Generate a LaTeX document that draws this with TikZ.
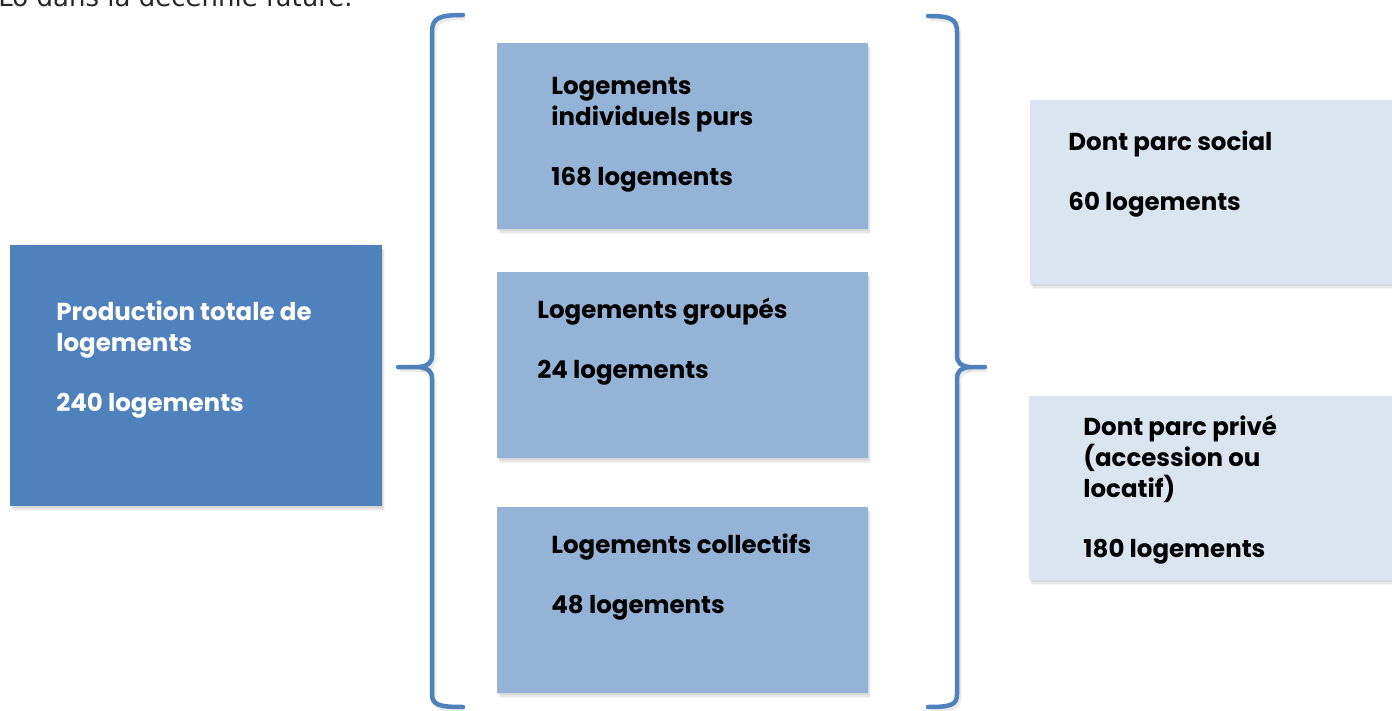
\documentclass[tikz,border=0pt]{standalone}
\usepackage{fontspec}
\setmainfont{Poppins}
\newfontfamily\bodyfont{DejaVu Sans}
\usepackage{xcolor}
\usetikzlibrary{positioning,shadows}
\definecolor{darkblue}{HTML}{4F81BD}
\definecolor{midblue}{HTML}{95B3D7}
\definecolor{paleblue}{HTML}{DBE5F1}

\begin{document}
\begin{tikzpicture}[x=1pt,y=-1pt,
                thick,
                box/.style={rectangle,inner sep=0pt,anchor=north west,
                  drop shadow={shadow xshift=1pt,shadow yshift=-2pt,opacity=0.15},
                  drop shadow={shadow xshift=2pt,shadow yshift=-3.5pt,opacity=0.12},
                  drop shadow={shadow xshift=3pt,shadow yshift=-5pt,opacity=0.08}},
                total box/.style={box,fill=darkblue,minimum width=372pt,minimum height=261pt},
                type box/.style={box,fill=midblue,minimum width=371pt,minimum height=186pt},
                parc box/.style={box,fill=paleblue,minimum width=372pt,minimum height=184pt},
                txt/.style={anchor=north west,inner sep=0pt,align=left,
                  font=\fontsize{24.5}{31}\selectfont\bfseries},
                brace/.style={draw=darkblue,line width=4.5pt,line cap=round,
                  preaction={draw=black,opacity=0.08,line width=4.5pt,
                    transform canvas={shift={(2pt,-3pt)}}}}]
  \clip (0,0) rectangle (1392,711);

  \node[anchor=base west,inner sep=0pt,font=\bodyfont\fontsize{26}{30}\selectfont,
        text=black!85] (intro) at (-2,7) {Lo dans la décennie future.};

  \node[total box] (total) at (10,245) {};
  \node[type box] (indiv) at (497,43) {};
  \node[type box] (group) at (497,272) {};
  \node[type box] (coll) at (497,507) {};
  \node[parc box] (social) at (1030,100) {};
  \node[parc box] (prive) at (1029,396) {};

  \node[txt,text=white] (totaltxt) [below right=55pt and 46pt of total.north west]
    {Production totale de\\logements\\[29pt]240 logements};
  \node[txt] (indivtxt) [below right=34pt and 54pt of indiv.north west]
    {Logements\\individuels purs\\[29pt]168 logements};
  \node[txt] (grouptxt) [below right=26pt and 40pt of group.north west]
    {Logements groupés\\[29pt]24 logements};
  \node[txt] (colltxt) [below right=26pt and 54pt of coll.north west]
    {Logements collectifs\\[29pt]48 logements};
  \node[txt] (socialtxt) [below right=30pt and 38pt of social.north west]
    {Dont parc social\\[29pt]60 logements};
  \node[txt] (privetxt) [below right=19pt and 54pt of prive.north west]
    {Dont parc privé\\(accession ou\\locatif)\\[29pt]180 logements};

  % left brace
  \draw[brace] (463,15) .. controls (439,15) and (432,18) .. (432,32)
    -- (432,355) .. controls (432,363) and (428,366) .. (419,367) -- (398,367);
  \draw[brace] (419,367) .. controls (428,368) and (432,371) .. (432,379)
    -- (432,694) .. controls (432,705) and (439,707) .. (463,707);

  % right brace
  \draw[brace] (928,16) .. controls (951,16) and (957,19) .. (957,32)
    -- (957,355) .. controls (957,363) and (961,366) .. (969,367) -- (985,367);
  \draw[brace] (969,367) .. controls (961,368) and (957,371) .. (957,379)
    -- (957,694) .. controls (957,705) and (951,707) .. (928,707);
\end{tikzpicture}
\end{document}
